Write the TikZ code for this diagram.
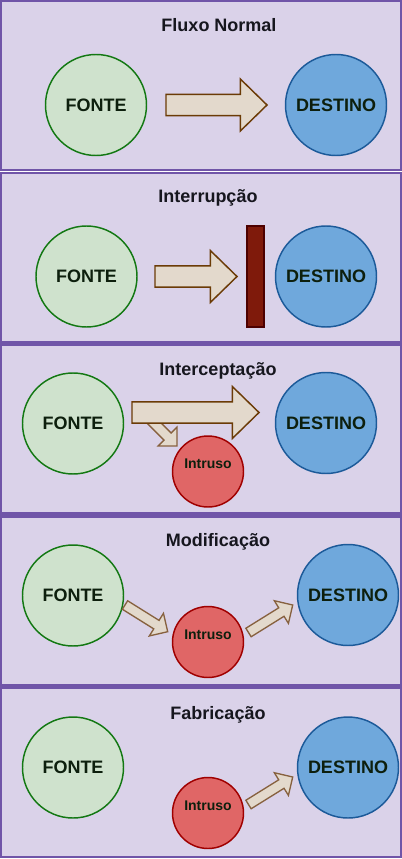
\documentclass[tikz,border=0pt]{standalone}
\usepackage{fontspec}
\setmainfont{Liberation Sans}
\usetikzlibrary{calc}

\definecolor{painelfundo}{HTML}{DAD2E9}
\definecolor{painelborda}{HTML}{7055A8}
\definecolor{fontefundo}{HTML}{CFE2CD}
\definecolor{fonteborda}{HTML}{137813}
\definecolor{destinofundo}{HTML}{6FA8DC}
\definecolor{destinoborda}{HTML}{1C5A99}
\definecolor{intrusofundo}{HTML}{E06666}
\definecolor{intrusoborda}{HTML}{A00000}
\definecolor{setafundo}{HTML}{E3D9CC}
\definecolor{setaborda}{HTML}{6B3B06}
\definecolor{barreirafundo}{HTML}{7F1A0B}
\definecolor{barreiraborda}{HTML}{4D0000}
\definecolor{textoescuro}{HTML}{16161E}
\definecolor{textocirculo}{HTML}{0D1F0D}

% block arrow: [style]{start}{tip}{half shaft}{half head}{head length}
\newcommand{\blocoseta}[6][setagrande]{%
  \coordinate (sb) at ($(#3)!#6!(#2)$);
  \draw[#1] ($(#2)!#4!90:(#3)$) -- ($(sb)!#4!90:(#3)$) -- ($(sb)!#5!90:(#3)$)
    -- (#3) -- ($(sb)!#5!-90:(#3)$) -- ($(sb)!#4!-90:(#3)$) -- ($(#2)!#4!-90:(#3)$) -- cycle;
}

\begin{document}
\begin{tikzpicture}[x=0.75pt, y=-0.75pt,
    painel/.style={draw=painelborda, fill=painelfundo, line width=1.9pt},
    titulo/.style={anchor=base, text=textoescuro, font=\bfseries\fontsize{13.5}{16}\selectfont},
    fonte/.style={draw=fonteborda, fill=fontefundo, circle, line width=1.1pt, minimum size=75.75pt, inner sep=0pt,
      text=textocirculo, font=\bfseries\fontsize{13.5}{16}\selectfont},
    destino/.style={fonte, draw=destinoborda, fill=destinofundo},
    intruso/.style={fonte, draw=intrusoborda, fill=intrusofundo, minimum size=53.25pt, text depth=11pt,
      font=\bfseries\fontsize{10.5}{12}\selectfont},
    barreira/.style={draw=barreiraborda, fill=barreirafundo, line width=1.1pt, minimum width=12.75pt,
      minimum height=75.75pt, inner sep=0pt},
    setagrande/.style={draw=setaborda, fill=setafundo, line width=1.1pt, line join=miter},
    setapequena/.style={setagrande, draw=setaborda!75!painelfundo, line width=1pt}]

    \useasboundingbox (0,0) rectangle (402,859);
    \fill[white] (0,0) rectangle (402,859);

    % panels
    \foreach \i in {0,...,4}
        \draw[painel] (1.2,{1.2+171.75*\i}) rectangle (400.8,{170.2+171.75*\i});

    \node[titulo] (t1) at (219,32) {Fluxo Normal};
    \node[titulo] (t2) at (208,203) {Interrupção};
    \node[titulo] (t3) at (218,375) {Interceptação};
    \node[titulo] (t4) at (218,546) {Modificação};
    \node[titulo] (t5) at (218,719) {Fabricação};

    % Fluxo Normal
    \node[fonte] (f1) at (96,105) {FONTE};
    \node[destino] (d1) at (336,105) {DESTINO};
    \coordinate (a1s) at (166,105);
    \coordinate (a1t) at (267,105);
    \blocoseta{a1s}{a1t}{7.9pt}{19.5pt}{20pt}

    % Interrupcao
    \node[fonte] (f2) at (86.5,276.5) {FONTE};
    \node[destino] (d2) at (326,276.5) {DESTINO};
    \node[barreira] (b2) at (255.5,276.5) {};
    \coordinate (a2s) at (155,276.5);
    \coordinate (a2t) at (237,276.5);
    \blocoseta{a2s}{a2t}{7.9pt}{19.5pt}{20pt}

    % Interceptacao
    \node[fonte] (f3) at (73,423.5) {FONTE};
    \node[destino] (d3) at (326,423) {DESTINO};
    \node[intruso] (i3) at (208,471.5) {Intruso};
    \coordinate (b3s) at (142,411);
    \coordinate (b3t) at (177,446);
    \blocoseta[setapequena]{b3s}{b3t}{3.75pt}{10pt}{10pt}
    \coordinate (a3s) at (132,412.5);
    \coordinate (a3t) at (259,412.5);
    \blocoseta{a3s}{a3t}{7.9pt}{19.5pt}{20pt}

    % Modificacao
    \node[fonte] (f4) at (73,595.5) {FONTE};
    \node[destino] (d4) at (348,595) {DESTINO};
    \node[intruso] (i4) at (208,642) {Intruso};
    \coordinate (b4s) at (125,605);
    \coordinate (b4t) at (167.7,631.7);
    \blocoseta[setapequena]{b4s}{b4t}{3.75pt}{10pt}{10pt}
    \coordinate (c4s) at (248.5,632.5);
    \coordinate (c4t) at (292.7,605);
    \blocoseta[setapequena]{c4s}{c4t}{3.75pt}{10pt}{10pt}

    % Fabricacao
    \node[fonte] (f5) at (73,767.5) {FONTE};
    \node[destino] (d5) at (348,767.5) {DESTINO};
    \node[intruso] (i5) at (208,813) {Intruso};
    \coordinate (c5s) at (248.5,804.5);
    \coordinate (c5t) at (292.7,777);
    \blocoseta[setapequena]{c5s}{c5t}{3.75pt}{10pt}{10pt}
\end{tikzpicture}
\end{document}
